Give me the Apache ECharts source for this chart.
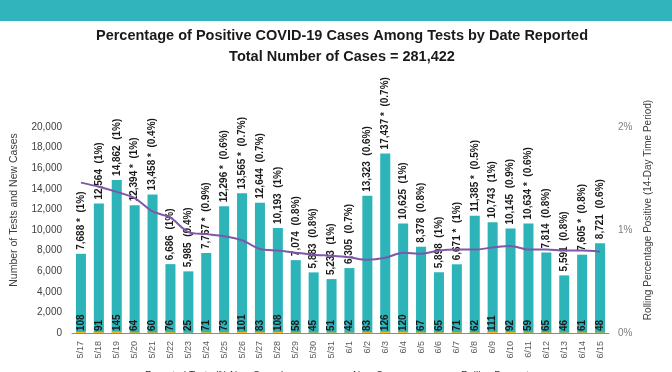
<!DOCTYPE html>
<html>
<head>
<meta charset="utf-8">
<script src="https://cdn.jsdelivr.net/npm/echarts@6/dist/echarts.min.js"></script>
<style>
  html, body { margin: 0; padding: 0; background: #ffffff; }
  #chart { width: 672px; height: 372px; }
</style>
</head>
<body>
<div id="chart"></div>
<script>
const categories = ['5/17','5/18','5/19','5/20','5/21','5/22','5/23','5/24','5/25','5/26','5/27','5/28','5/29','5/30','5/31','6/1','6/2','6/3','6/4','6/5','6/6','6/7','6/8','6/9','6/10','6/11','6/12','6/13','6/14','6/15'];
const reportedTests = [7688,12564,14862,12394,13458,6686,5985,7767,12296,13565,12644,10193,7074,5883,5233,6305,13323,17437,10625,8378,5898,6671,11385,10743,10145,10634,7814,5591,7605,8721];
const newCases = [108,91,145,64,60,76,25,71,73,101,83,108,58,45,51,42,83,126,120,67,65,71,62,111,92,59,65,46,61,48];
const rollingPct = [1.46,1.42,1.37,1.31,1.18,1.12,0.98,0.96,0.94,0.90,0.815,0.80,0.78,0.76,0.75,0.735,0.71,0.73,0.78,0.77,0.80,0.81,0.81,0.83,0.845,0.81,0.81,0.80,0.80,0.79];
const labelStar = [1,0,0,1,1,0,0,1,1,1,0,0,0,0,0,0,0,1,0,0,0,1,1,0,0,1,0,0,1,0];
const labelPct = ['1%','1%','1%','1%','0.4%','1%','0.4%','0.9%','0.6%','0.7%','0.7%','1%','0.8%','0.8%','1%','0.7%','0.6%','0.7%','1%','0.8%','1%','1%','0.5%','1%','0.9%','0.6%','0.8%','0.8%','0.8%','0.6%'];
const leftTicks = { min: 0, max: 20000, interval: 2000 };
const rightTicks = { min: 0, max: 2, interval: 1 };

const FONT = '"Liberation Sans", Arial, sans-serif';
function commas(v) { return String(v).replace(/\B(?=(\d{3})+(?!\d))/g, ','); }

const chart = echarts.init(document.getElementById('chart'), null, { renderer: 'canvas' });
chart.setOption({
  animation: false,
  backgroundColor: '#ffffff',
  textStyle: { fontFamily: FONT },
  graphic: [
    { type: 'rect', left: 0, top: 0, shape: { width: 672, height: 21 }, style: { fill: '#31B4BB' }, silent: true }
  ],
  title: {
    text: 'Percentage of Positive COVID-19 Cases Among Tests by Date Reported\nTotal Number of Cases = 281,422',
    left: 337,
    textAlign: 'center',
    top: 20,
    textStyle: { fontFamily: FONT, fontWeight: 'bold', fontSize: 14.5, color: '#1a1a1a', lineHeight: 21 }
  },
  legend: [
    { data: ['Reported Tests (% New Cases)'], left: 117, top: 366, itemWidth: 18, itemHeight: 7, itemGap: 5, textStyle: { fontSize: 10, color: '#333', fontFamily: FONT } },
    { data: ['New Cases'], left: 325, top: 366, itemWidth: 18, itemHeight: 7, textStyle: { fontSize: 10, color: '#333', fontFamily: FONT } },
    { data: ['Rolling Percentage'], left: 428, top: 366, itemWidth: 22, itemHeight: 7, textStyle: { fontSize: 10, color: '#333', fontFamily: FONT } }
  ],
  grid: { left: 72, right: 63, top: 127, bottom: 39, containLabel: false },
  xAxis: {
    type: 'category',
    data: categories,
    axisLine: { show: true, lineStyle: { color: '#8c8c8c', width: 1 } },
    axisTick: { show: false },
    axisLabel: { rotate: 90, fontSize: 9, color: '#595959', margin: 8, interval: 0, fontFamily: FONT }
  },
  yAxis: [
    {
      type: 'value',
      min: leftTicks.min, max: leftTicks.max, interval: leftTicks.interval,
      name: 'Number of Tests and New Cases',
      nameLocation: 'middle', nameRotate: 90, nameGap: 52,
      nameTextStyle: { fontSize: 10.5, color: '#404040', fontFamily: FONT, padding: [0, 0, 0, 40] },
      axisLine: { show: false }, axisTick: { show: false }, splitLine: { show: false },
      axisLabel: { formatter: v => commas(v), fontSize: 10, color: '#404040', margin: 10, fontFamily: FONT }
    },
    {
      type: 'value',
      position: 'right',
      min: rightTicks.min, max: rightTicks.max, interval: rightTicks.interval,
      name: 'Rolling Percentage Positive (14-Day Time Period)',
      nameLocation: 'middle', nameRotate: 90, nameGap: 33,
      nameTextStyle: { fontSize: 10, color: '#404040', fontFamily: FONT, padding: [0, 0, 0, 40] },
      axisLine: { show: false }, axisTick: { show: false }, splitLine: { show: false },
      axisLabel: { formatter: '{value}%', fontSize: 10, color: '#7f7f7f', margin: 9, fontFamily: FONT }
    }
  ],
  series: [
    {
      name: 'Reported Tests (% New Cases)',
      type: 'bar',
      yAxisIndex: 0,
      data: reportedTests,
      barWidth: '56%',
      itemStyle: { color: '#2CB4B9' },
      label: {
        show: true,
        position: 'top',
        rotate: 90,
        align: 'left',
        verticalAlign: 'middle',
        distance: 4,
        fontSize: 10,
        fontWeight: 'bold',
        color: '#1a1a1a',
        fontFamily: FONT,
        formatter: p => commas(p.value) + (labelStar[p.dataIndex] ? ' *' : '') + '  (' + labelPct[p.dataIndex] + ')'
      },
      z: 2
    },
    {
      name: 'New Cases',
      type: 'bar',
      yAxisIndex: 0,
      data: newCases,
      barWidth: '56%',
      barGap: '-100%',
      itemStyle: { color: '#F5B625' },
      label: {
        show: true,
        position: 'insideBottom',
        rotate: 90,
        align: 'left',
        verticalAlign: 'middle',
        distance: 2,
        fontSize: 10,
        fontWeight: 'bold',
        color: '#1a1a1a',
        fontFamily: FONT
      },
      z: 3
    },
    {
      name: 'Rolling Percentage',
      type: 'line',
      yAxisIndex: 1,
      data: rollingPct,
      smooth: 0.3,
      showSymbol: false,
      symbol: 'none',
      lineStyle: { color: '#7E57A8', width: 2 },
      itemStyle: { color: '#7E57A8' },
      z: 4
    }
  ]
});
</script>
</body>
</html>
